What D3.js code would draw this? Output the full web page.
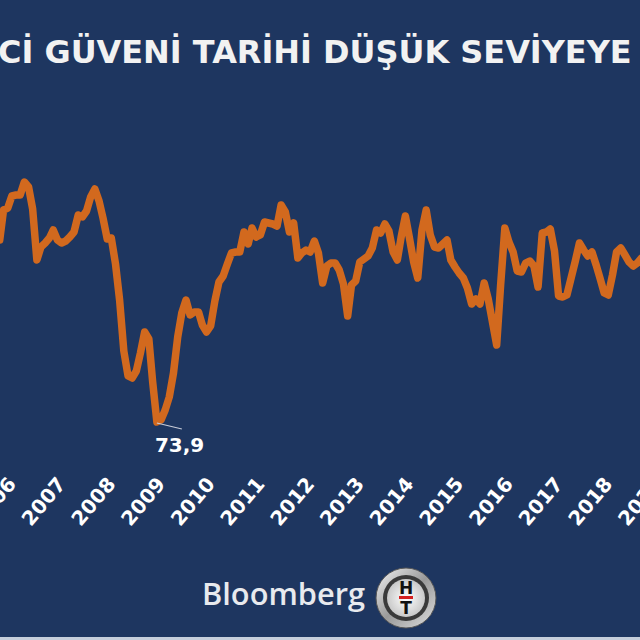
<!DOCTYPE html>
<html><head><meta charset="utf-8">
<script src="https://cdn.jsdelivr.net/npm/d3@7"></script>
<style>html,body{margin:0;padding:0;background:#1e3660;}svg{display:block;}</style>
</head><body>
<svg id="c" width="640" height="640"></svg>
<script>
// ---- data ----
const titleText = "TÜKETİCİ GÜVENİ TARİHİ DÜŞÜK SEVİYEYE";
const firstMonth = [2006, 1]; // Feb 2006 (year, zero-based month)
const values = [
 92.1,95.1,95.3,96.5,96.6,96.6,97.9,97.4,95.2,90.1,91.4,
 91.8,92.3,93.1,92.1,91.8,92.0,92.4,92.9,94.6,94.4,95.0,96.4,
 97.2,96.0,94.3,92.2,92.3,89.7,86.1,81.0,78.5,78.3,79.0,80.8,
 82.9,82.2,77.9,73.9,74.1,75.1,76.4,78.8,82.4,84.8,86.1,84.6,
 84.9,84.9,83.6,82.9,83.5,86.0,87.9,88.5,89.7,90.8,90.9,90.9,
 92.9,91.7,93.3,92.4,92.6,93.9,93.8,93.7,93.5,95.6,94.9,92.9,
 93.8,90.3,90.8,91.1,90.9,92.0,90.8,87.8,89.5,89.8,89.8,89.1,
 87.7,84.5,87.6,88.0,89.9,90.2,90.5,91.3,93.1,92.8,93.7,93.0,
 90.9,90.1,92.4,94.5,92.3,89.9,88.3,93.1,95.1,92.6,91.4,91.3,
 91.7,92.1,90.1,89.4,88.8,88.3,87.3,85.7,86.2,85.7,87.8,86.2,
 83.9,81.6,87.6,93.3,91.9,90.9,89.0,88.9,89.8,90.0,89.5,87.4,
 92.8,92.9,93.2,91.0,86.5,86.4,86.6,88.3,90.0,91.8,91.1,90.5,
 90.9,89.6,88.3,86.8,86.6,88.6,90.9,91.3,90.6,89.9,89.5,89.8,
 90.3
];
const yearLabels = ["2006","2007","2008","2009","2010","2011","2012","2013","2014","2015","2016","2017","2018","2019"];
const minLabel = "73,9";
const brandText = "Bloomberg";

// ---- build ----
const data = values.map((v,i)=>({date:new Date(firstMonth[0], firstMonth[1]+i, 1), value:v}));
const svg = d3.select("#c");
const W = 640, H = 640;
svg.append("rect").attr("width",W).attr("height",H).attr("fill","#1e3660");

const x = d3.scaleTime().domain([new Date(2006,0,1), new Date(2019,0,1)]).range([-4.5, 641.6]);
const y = d3.scaleLinear().domain([73.9, 98.1]).range([422, 180]);

// title
const title = svg.append("text").attr("font-family","DejaVu Sans").attr("font-weight","bold")
  .attr("font-size",30).attr("fill","#f2f2f2").attr("y",63).attr("x",0).text(titleText);
(function(){
  const node = title.node();
  const pre = titleText.indexOf("Cİ GÜVENİ");
  const preLen = node.getSubStringLength(0, pre);
  const total = node.getComputedTextLength();
  const visible = total - preLen;
  const targetVisible = 634;
  const s = 30 * targetVisible / visible;
  title.attr("font-size", s);
  const preLen2 = node.getSubStringLength(0, pre);
  title.attr("x", -preLen2 - 2);
})();

// line
const line = d3.line().x(d=>x(d.date)).y(d=>y(d.value)).curve(d3.curveLinear);
svg.append("path").datum(data).attr("d",line).attr("fill","none")
  .attr("stroke","#d2691e").attr("stroke-width",7.5).attr("stroke-linejoin","round").attr("stroke-linecap","round");

// min annotation
const minD = data.reduce((a,b)=> b.value < a.value ? b : a);
const mx = x(minD.date), my = y(minD.value);
svg.append("line").attr("x1",mx).attr("y1",my+1).attr("x2",mx+25).attr("y2",my+7)
  .attr("stroke","#c8ccd8").attr("stroke-width",1.2);
svg.append("text").attr("x",mx-2).attr("y",my+30).attr("font-family","DejaVu Sans").attr("font-weight","bold")
  .attr("font-size",20).attr("fill","#ffffff").text(minLabel);

// x axis labels
const ax = svg.append("g");
yearLabels.forEach(yl=>{
  const px = x(new Date(+yl, 6, 1));
  ax.append("text").attr("transform",`translate(${px-3},${484.5}) rotate(-50)`)
    .attr("text-anchor","end")
    .attr("font-family","DejaVu Sans").attr("font-weight","bold").attr("font-size",20)
    .attr("fill","#ffffff").text(yl);
});

// branding
svg.append("text").attr("x",202).attr("y",605).attr("font-family","Open Sans").attr("font-weight",600)
  .attr("font-size",30).attr("textLength",163).attr("lengthAdjust","spacingAndGlyphs")
  .attr("fill","#e8eaee").text(brandText);

const defs = svg.append("defs");
const g1 = defs.append("linearGradient").attr("id","ring").attr("x1","0").attr("y1","0").attr("x2","1").attr("y2","1");
g1.append("stop").attr("offset","0").attr("stop-color","#f4f4f4");
g1.append("stop").attr("offset","0.5").attr("stop-color","#9a9a9a");
g1.append("stop").attr("offset","1").attr("stop-color","#e0e0e0");
const g2 = defs.append("radialGradient").attr("id","disc");
g2.append("stop").attr("offset","0").attr("stop-color","#ffffff");
g2.append("stop").attr("offset","1").attr("stop-color","#c9c9c9");
const cx = 406, cy = 598;
svg.append("circle").attr("cx",cx).attr("cy",cy).attr("r",30).attr("fill","url(#ring)").attr("stroke","#555").attr("stroke-width",1);
svg.append("circle").attr("cx",cx).attr("cy",cy).attr("r",23).attr("fill","#3a3a3a");
svg.append("circle").attr("cx",cx).attr("cy",cy).attr("r",19).attr("fill","url(#disc)");
svg.append("text").attr("x",cx).attr("y",cy-4).attr("text-anchor","middle").attr("font-family","DejaVu Sans")
  .attr("font-weight","bold").attr("font-size",17).attr("fill","#111").text("H");
svg.append("rect").attr("x",cx-7).attr("y",cy-2).attr("width",14).attr("height",3).attr("fill","#d42020");
svg.append("text").attr("x",cx).attr("y",cy+16).attr("text-anchor","middle").attr("font-family","DejaVu Sans")
  .attr("font-weight","bold").attr("font-size",17).attr("fill","#111").text("T");
svg.append("rect").attr("x",0).attr("y",637).attr("width",W).attr("height",3).attr("fill","#c6cfdc");
</script>
</body></html>
